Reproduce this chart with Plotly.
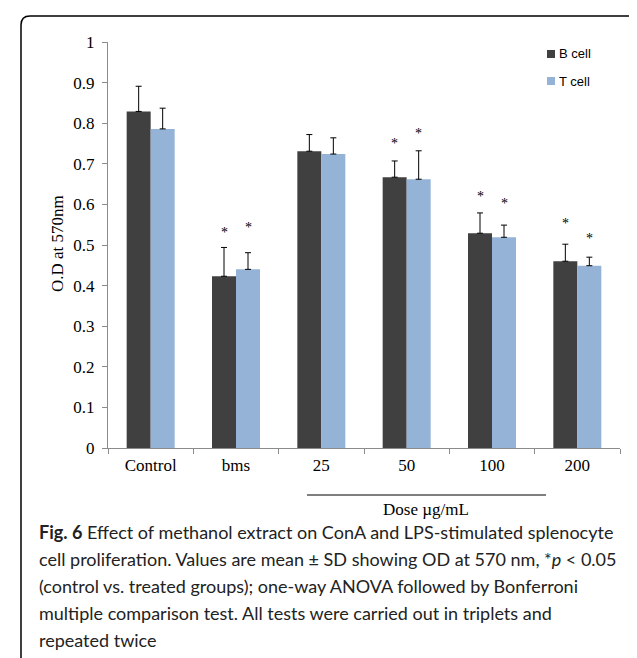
import plotly.graph_objects as go

categories = ["Control", "bms", "25", "50", "100", "200"]
b_cell = [0.829, 0.423, 0.731, 0.667, 0.529, 0.460]
b_cell_sd = [0.062, 0.071, 0.041, 0.040, 0.050, 0.042]
t_cell = [0.786, 0.440, 0.724, 0.662, 0.519, 0.449]
t_cell_sd = [0.051, 0.041, 0.040, 0.070, 0.030, 0.021]
# significance stars (category, value position)
star_b_cats = ["bms", "50", "100", "200"]
star_b_pos = [0.532, 0.750, 0.619, 0.554]
star_t_cats = ["bms", "50", "100", "200"]
star_t_pos = [0.544, 0.774, 0.603, 0.515]
y_ticks = [0, 0.1, 0.2, 0.3, 0.4, 0.5, 0.6, 0.7, 0.8, 0.9, 1]
legend_names = ["B cell", "T cell"]
caption_lines = [
    "<b>Fig. 6</b> Effect of methanol extract on ConA and LPS-stimulated splenocyte",
    "cell proliferation. Values are mean \u00b1 SD showing OD at 570 nm, *<i>p</i> &lt; 0.05",
    "(control vs. treated groups); one-way ANOVA followed by Bonferroni",
    "multiple comparison test. All tests were carried out in triplets and",
    "repeated twice",
]

B_COLOR = "#404040"
T_COLOR = "#95b3d7"

W, H = 637, 658
L, R, T, B = 100, 25, 34, 218
PW, PH = W - L - R, H - T - B

def px(x):
    return (x - L) / PW

def py(y):
    return (H - B - y) / PH

SERIF = "Liberation Serif"
SANS = "Liberation Sans"

fig = go.Figure()
fig.add_trace(go.Bar(
    x=categories, y=b_cell, name=legend_names[0], marker_color=B_COLOR,
    marker_line_width=0,
    error_y=dict(type="data", array=b_cell_sd, arrayminus=[0] * len(b_cell),
                 symmetric=False, color="black", thickness=1, width=3),
))
fig.add_trace(go.Bar(
    x=categories, y=t_cell, name=legend_names[1], marker_color=T_COLOR,
    marker_line_width=0,
    error_y=dict(type="data", array=t_cell_sd, arrayminus=[0] * len(t_cell),
                 symmetric=False, color="black", thickness=1, width=3),
))

annotations = []
for c, v in zip(star_b_cats, star_b_pos):
    annotations.append(dict(x=categories.index(c), y=v, xref="x", yref="y", text="*",
                            showarrow=False, xshift=-12, xanchor="center", yanchor="middle",
                            font=dict(family=SERIF, size=14, color="#000000")))
for c, v in zip(star_t_cats, star_t_pos):
    annotations.append(dict(x=categories.index(c), y=v, xref="x", yref="y", text="*",
                            showarrow=False, xshift=12, xanchor="center", yanchor="middle",
                            font=dict(family=SERIF, size=14, color="#000000")))

annotations.append(dict(x=px(50), y=py(236), xref="paper", yref="paper",
                        text="O.D at 570nm", textangle=-90, showarrow=False,
                        xanchor="center", yanchor="middle",
                        font=dict(family=SERIF, size=17, color="black")))
annotations.append(dict(x=px(418), y=py(502), xref="paper", yref="paper",
                        text="Dose \u00b5g/mL", showarrow=False,
                        xanchor="center", yanchor="middle",
                        font=dict(family=SERIF, size=17, color="black")))

for i, line in enumerate(caption_lines):
    annotations.append(dict(x=px(29), y=py(524 + 27 * i), xref="paper", yref="paper",
                            text=line, showarrow=False, xanchor="left", yanchor="middle",
                            font=dict(family="Lato", size=18, color="#222222")))

# legend (drawn manually to match the compact Excel-style layout)
legend_colors = [B_COLOR, T_COLOR]
shapes = []
for i, (name, col) in enumerate(zip(legend_names, legend_colors)):
    cy = 46 + 27 * i
    shapes.append(dict(type="rect", xref="paper", yref="paper",
                       x0=px(539), x1=px(547), y0=py(cy - 4), y1=py(cy + 4),
                       fillcolor=col, line=dict(width=0)))
    annotations.append(dict(x=px(549), y=py(cy), xref="paper", yref="paper",
                            text=name, showarrow=False, xanchor="left", yanchor="middle",
                            font=dict(family=SANS, size=13, color="black")))

# rounded border
x0, x1, y0, y1, r = 13, 634, 8, 700, 9
path = (f"M {px(x0)},{py(y1)} L {px(x0)},{py(y0 + r)} "
        f"Q {px(x0)},{py(y0)} {px(x0 + r)},{py(y0)} "
        f"L {px(x1 - r)},{py(y0)} Q {px(x1)},{py(y0)} {px(x1)},{py(y0 + r)} "
        f"L {px(x1)},{py(y1)}")
shapes += [
    dict(type="path", xref="paper", yref="paper", path=path,
         line=dict(color="black", width=1.5)),
    dict(type="line", xref="paper", yref="paper", x0=px(299), x1=px(538),
         y0=py(487), y1=py(487), line=dict(color="black", width=1)),
]

fig.update_layout(
    width=W, height=H,
    margin=dict(l=L, r=R, t=T, b=B),
    paper_bgcolor="white", plot_bgcolor="white",
    barmode="group", bargap=0.4375, bargroupgap=0,
    showlegend=False,
    annotations=annotations,
    shapes=shapes,
    xaxis=dict(type="category", categoryorder="array", categoryarray=categories,
               range=[-0.5, len(categories) - 0.5],
               showline=True, linecolor="#8c8c8c", linewidth=1,
               ticks="outside", tickson="boundaries", ticklen=5, tickcolor="#8c8c8c",
               tickangle=0, ticklabelstandoff=2,
               tickfont=dict(family=SERIF, size=17, color="black"),
               showgrid=False, zeroline=False),
    yaxis=dict(range=[0, 1], tickvals=y_ticks, ticktext=[f"{v:g}" for v in y_ticks],
               showline=True, linecolor="#8c8c8c", linewidth=1,
               ticks="outside", ticklen=5, tickcolor="#8c8c8c",
               ticklabelstandoff=4,
               tickfont=dict(family=SERIF, size=17, color="black"),
               showgrid=False, zeroline=False),
)

fig.write_html("out.html")
